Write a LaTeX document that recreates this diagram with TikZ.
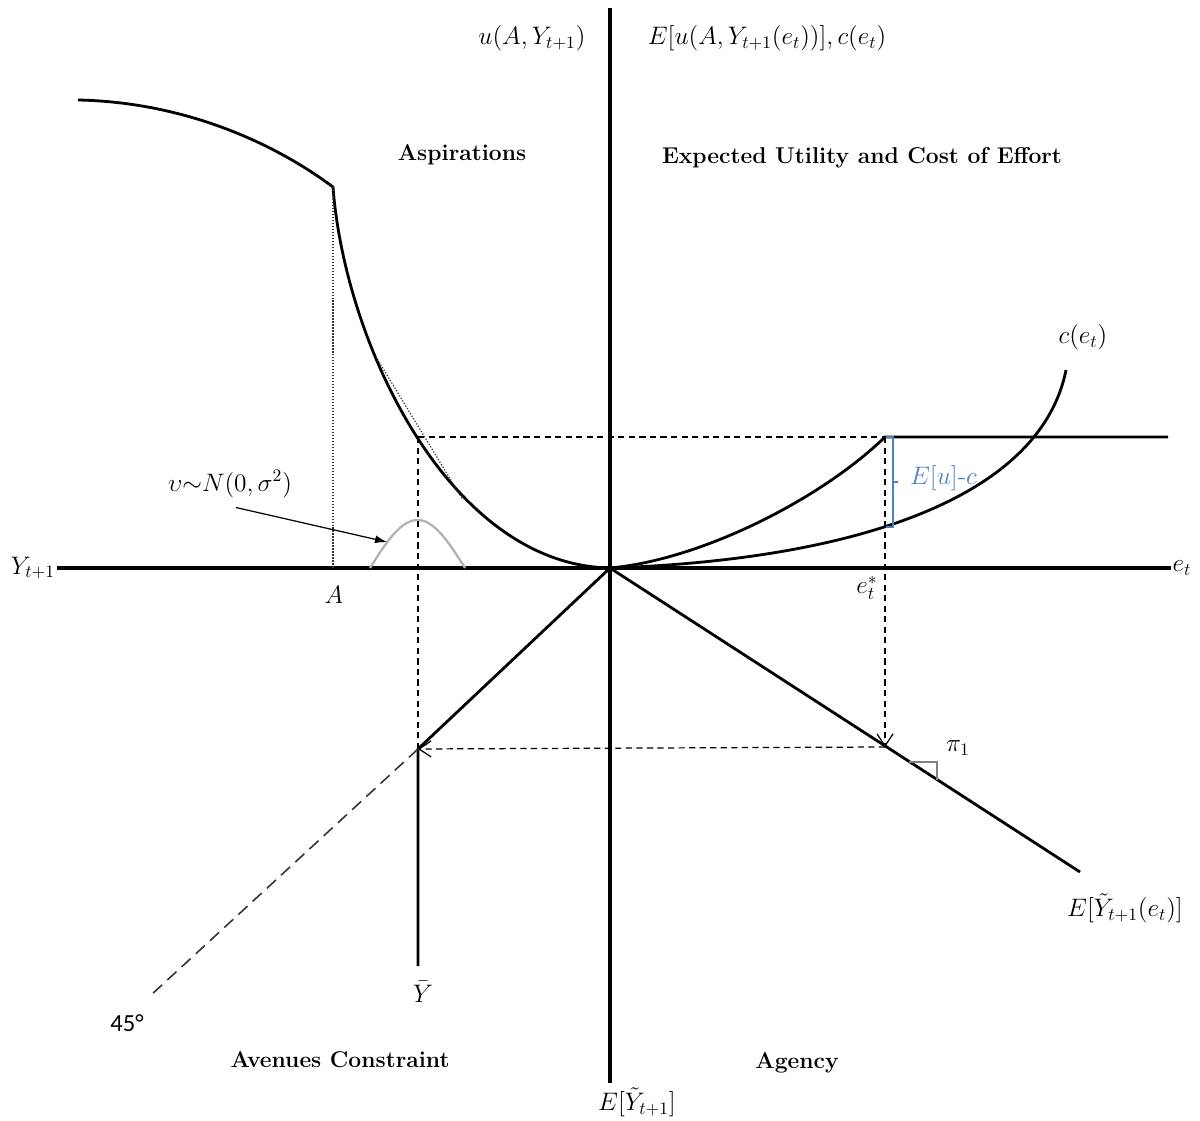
\documentclass[tikz,border=0pt]{standalone}
\usepackage{fontspec}
\usetikzlibrary{arrows.meta, positioning, calc}
\newfontfamily\labelsans{Carlito}
\definecolor{gapblue}{RGB}{79,129,189}

\begin{document}
\begin{tikzpicture}[
    x=0.02cm, y=-0.02cm, >=Stealth,
    axis/.style={line width=2.4pt},
    curve/.style={line width=1.6pt},
    guide/.style={line width=0.7pt, dash pattern=on 3.5pt off 2.5pt},
    guidearrow/.style={guide, -{Straight Barb[length=2.4mm, width=3.2mm]}},
    hint/.style={line width=0.7pt, densely dotted, gray!40!black},
    quadtitle/.style={font=\fontsize{13}{15}\selectfont\bfseries},
    lbl/.style={font=\fontsize{14.5}{17}\selectfont, inner sep=1pt}
  ]
  \useasboundingbox (0,0) rectangle (1200,1121);

  % Key points
  \coordinate (O) at (610,568);
  \coordinate (top) at (610,8);
  \coordinate (bot) at (610,1083);
  \coordinate (kink) at (333,187);
  \coordinate (Ystar) at (418,437);
  \coordinate (Eu) at (885,437);
  \coordinate (cstar) at (885,527);
  \coordinate (agency) at (885,747);
  \coordinate (Ybar) at (418,749);
  \coordinate (agEnd) at (1080,872);

  % Axes
  \node[lbl] (Ylab) at (33,568) {$Y_{t+1}$};
  \node[lbl] (etlab) at (1182,568) {$e_t$};
  \node[lbl] (EYlab) at (637,1102) {$E[\tilde{Y}_{t+1}]$};
  \node[lbl] (ulab) at (532,38) {$u(A,Y_{t+1})$};
  \node[lbl] (Eulab) at (767,38) {$E\bigl[u\bigl(A,Y_{t+1}(e_t)\bigr)\bigr],c(e_t)$};
  \draw[axis] (Ylab.east) -- (etlab.west);
  \draw[axis] (top) -- (bot);

  % Quadrant titles
  \node[quadtitle] (asp) at (462,155) {Aspirations};
  \node[quadtitle] (euc) at (862,158) {Expected Utility and Cost of Effort};
  \node[quadtitle] (ave) at (340,1060) {Avenues Constraint};
  \node[quadtitle] (agc) at (797,1063) {Agency};

  % Aspirations
  \draw[curve] (78,100) .. controls (180,102) and (270,140) .. (kink)
    .. controls (345,345) and (450,565) .. (O);
  \draw[hint] (376,357) -- (463,500);
  \node[lbl] (Alab) at (334,595) {$A$};
  \draw[hint] (kink) -- (333,568);
  \draw[gray!60, line width=1.3pt] plot[domain=370:465, samples=50, smooth]
    (\x, {568-48*sin((\x-370)*1.8947)});
  \node[lbl] (nlab) at (230,484) {$\upsilon{\sim}N(0,\sigma^2)$};
  \coordinate (bumpL) at (387,542);
  \draw[-{Latex[length=2.4mm, width=1.6mm]}, line width=0.7pt]
    ([shift={(6,8)}]nlab.south) -- (bumpL);

  % Expected utility and cost
  \draw[curve] (O) .. controls (700,560) and (820,500) .. (Eu) -- (1168,437);
  \draw[curve] (O) .. controls (850,560) and (1040,500) .. (1066,370);
  \node[lbl] (clab) at (1083,337) {$c(e_t)$};
  \draw[gapblue, line width=1.5pt] (886,437) -- (893,437) -- (893,527) -- (886,527);
  \draw[gapblue, line width=1.5pt] (893,482) -- (898,482);
  \node[lbl, text=gapblue, anchor=west] (gap) at (908,478) {$E[u]$-$c$};
  \node[lbl] (estar) at (867,588) {$e_t^*$};

  % Guides
  \draw[guide] (Ystar) -- (Eu);
  \draw[guide] (Ystar) -- (Ybar);
  \draw[guidearrow] (Eu) -- (agency);
  \draw[guidearrow] (agency) -- (Ybar);

  % Agency
  \draw[curve] (O) -- (agEnd);
  \draw[gray, line width=0.6pt] (909,762) -- (937,762) -- (937,780);
  \node[lbl] (pilab) at (958,748) {$\pi_1$};
  \node[lbl] (agLab) at (1125,908) {$E[\tilde{Y}_{t+1}(e_t)]$};

  % Avenues constraint
  \draw[curve] (O) -- (Ybar) -- (418,966);
  \draw[line width=0.9pt, gray!40!black, dash pattern=on 7pt off 4pt] (Ybar) -- (150,996);
  \node[lbl] (Ybarlab) at (423,992) {$\bar{Y}$};
  \node[font=\labelsans\fontsize{14}{16}\selectfont] (deg) at (127,1023) {45°};
\end{tikzpicture}
\end{document}
